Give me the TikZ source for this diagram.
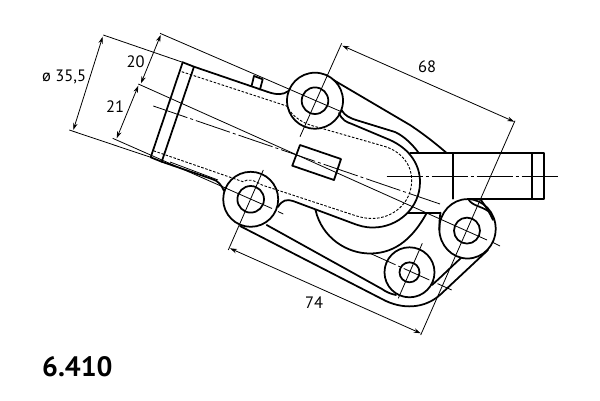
\documentclass[tikz,border=0pt]{standalone}
\usepackage{fontspec}
\setmainfont{PT Sans}
\usetikzlibrary{arrows.meta}
\tikzset{
  thick line/.style={line width=1.75pt,line cap=round,line join=round},
  thin line/.style={line width=0.8pt},
  hidden line/.style={line width=0.9pt,dash pattern=on 2.6pt off 1.6pt},
  axis line/.style={line width=0.8pt,dash pattern=on 36pt off 3pt on 3pt off 3pt},
  dimline/.style={line width=0.8pt,{Stealth[length=7pt,width=4.5pt]}-{Stealth[length=7pt,width=4.5pt]}},
  dimtext/.style={font=\fontsize{16.5}{18}\selectfont,inner sep=0pt},
}
\begin{document}
\begin{tikzpicture}[x=1pt,y=-1pt]
\useasboundingbox (0,0) rectangle (600,400);
% bosses
\coordinate (A) at (315,100.7);
\coordinate (B) at (250.7,199.3);
\coordinate (C) at (467,230.6);
\coordinate (Co) at (467.5,228.8);
\coordinate (D) at (409.5,272.3);
\foreach \c/\ro/\ri in {A/28/13.3,B/27.5/13.3,D/25/10}{
  \draw[thick line] (\c) circle[radius=\ro];
  \draw[thick line] (\c) circle[radius=\ri];
}
\draw[thick line] (Co) ellipse[x radius=28.2,y radius=29.7];
\draw[thick line] (C) circle[radius=13];
% flange
\draw[thick line] (182.7,62.3) -- (150.7,157.3) -- (161.7,161.7);
\draw[thick line] (182.7,62.3) -- (194,66.7) -- (161.7,161.7);
% body upper edge and lug
\draw[thick line] (194,66.7) -- (268,92) .. controls (277,95) and (283,95) .. (288.5,91);
\draw[thick line] (254,76) -- (262.7,79.3) -- (260,89.5);
\draw[thick line] (254,76) -- (251.7,85.5);
% body lower edge
\draw[thick line] (161.7,161.7) -- (212,179) .. controls (218,181) and (221,184) .. (224,191);
\draw[thin line] (170,162) -- (218,180);
% U shaped outline
\draw[thick line] (339,113) .. controls (342,120) and (346,122) .. (352,124)
  -- (390,140) .. controls (410,149) and (420,165) .. (420,182)
  .. controls (420,208) and (398,227.5) .. (373,227.5)
  .. controls (365,227.5) and (360,226) .. (352,223)
  -- (293,201) .. controls (287,199) and (282,200) .. (278,207);
% second rib line
\draw[thick line] (341.5,110) .. controls (345,116) and (350,118) .. (356,120)
  -- (395,132) .. controls (404,136) and (413,145) .. (419,153.3);
% outer rib
\draw[thick line] (333.5,80) -- (410,125) .. controls (425,135) and (435,143) .. (447,153.3);
% pipe
\draw[thick line] (410,153.3) -- (544.3,153.3) -- (544.3,198.7) -- (468,198.7);
\draw[thick line] (452.7,153.3) -- (452.7,198.7);
\draw[thick line] (532.3,153.3) -- (532.3,198.7);
\draw[thick line] (408.3,212.7) -- (440.5,212.7);
% neck to right boss
\draw[thick line] (440.5,212.7) .. controls (439.5,218) and (439.3,224) .. (439.5,230);
\draw[thick line] (468.3,199) .. controls (472,206) and (481,206) .. (488,211);
\draw[thick line] (480.5,199.3) .. controls (486,207) and (490,213) .. (493,220);
% large arc
\draw[thick line] (315.5,210) .. controls (322,238) and (347,253.5) .. (370,253.5)
  .. controls (397,253.5) and (414,236) .. (426.7,213);
% lower link
\draw[thick line] (240,226) -- (382,299) .. controls (402,310) and (425,309) .. (441,294) -- (488,250);
\draw[thick line] (266.7,225) -- (382,289) .. controls (386,292) and (391,294) .. (396,295);
\draw[thick line] (432,285) .. controls (440,278) and (450,268) .. (461,258);
% centre block
\draw[thick line] (300,145) -- (341,159) -- (334,180) -- (292.3,165.7) -- cycle;
% hidden lines
\draw[hidden line] (181.7,71.7) -- (286.7,106)
  .. controls (291,114) and (299,122) .. (313.3,126)
  -- (385,146.5) .. controls (402,152) and (411.7,165) .. (411.7,180)
  .. controls (411.7,204) and (392,218.5) .. (372,218.5)
  .. controls (365,218.5) and (360,217) .. (355,215.5)
  -- (262,185) .. controls (254,180) and (248,178.5) .. (243,181.7)
  -- (153.3,150.7);
% axes
\draw[axis line] (153.3,106) -- (440,204);
\draw[axis line] (386.7,176) -- (560,176);
\draw[thin line] (160,33.3) -- (342,112);
\draw[thin line] (138.3,84) -- (487,240);
\draw[thin line] (493,242.5) -- (500,246);
\draw[thin line] (112.7,138.3) -- (272,208.5);
\draw[thin line] (278,211.5) -- (283.3,214);
\draw[axis line,dash pattern=on 28pt off 3pt on 3pt off 3pt] (370,253.3) -- (451.7,290);
\draw[thin line] (341.7,43.3) -- (300,136.7);
\draw[thin line] (515,120.7) -- (420.7,335);
\draw[thin line] (263.3,170) -- (228.3,250);
\draw[thin line] (422.3,243.3) -- (398.3,298.3);
% extension lines
\draw[thin line] (103.3,35) -- (182.7,62.3);
\draw[thin line] (69.3,130) -- (150.7,157.3);
% dimensions
\coordinate (d1a) at (102.7,36.7); \coordinate (d1b) at (73.3,130);
\coordinate (d2a) at (160.7,35); \coordinate (d2b) at (141,83.3);
\coordinate (d3a) at (138.3,85.7); \coordinate (d3b) at (116.7,138.3);
\coordinate (d4a) at (342.3,45.7); \coordinate (d4b) at (514.3,121.7);
\coordinate (d5a) at (230,248.3); \coordinate (d5b) at (420.7,333.3);
\draw[dimline] (d1a) -- (d1b);
\draw[dimline] (d2a) -- (d2b);
\draw[dimline] (d3a) -- (d3b);
\draw[dimline] (d4a) -- (d4b);
\draw[dimline] (d5a) -- (d5b);
% labels
\node[dimtext,anchor=west] (l1) at (42,77) {ø 35,5};
\node[dimtext] (l2) at (135.5,62) {20};
\node[dimtext] (l3) at (115,107) {21};
\node[dimtext] (l4) at (427,67) {68};
\node[dimtext] (l5) at (314,303) {74};
\node[inner sep=0pt,anchor=west,font=\fontsize{28}{30}\selectfont\bfseries] (title) at (42,367) {6.410};
\end{tikzpicture}
\end{document}
